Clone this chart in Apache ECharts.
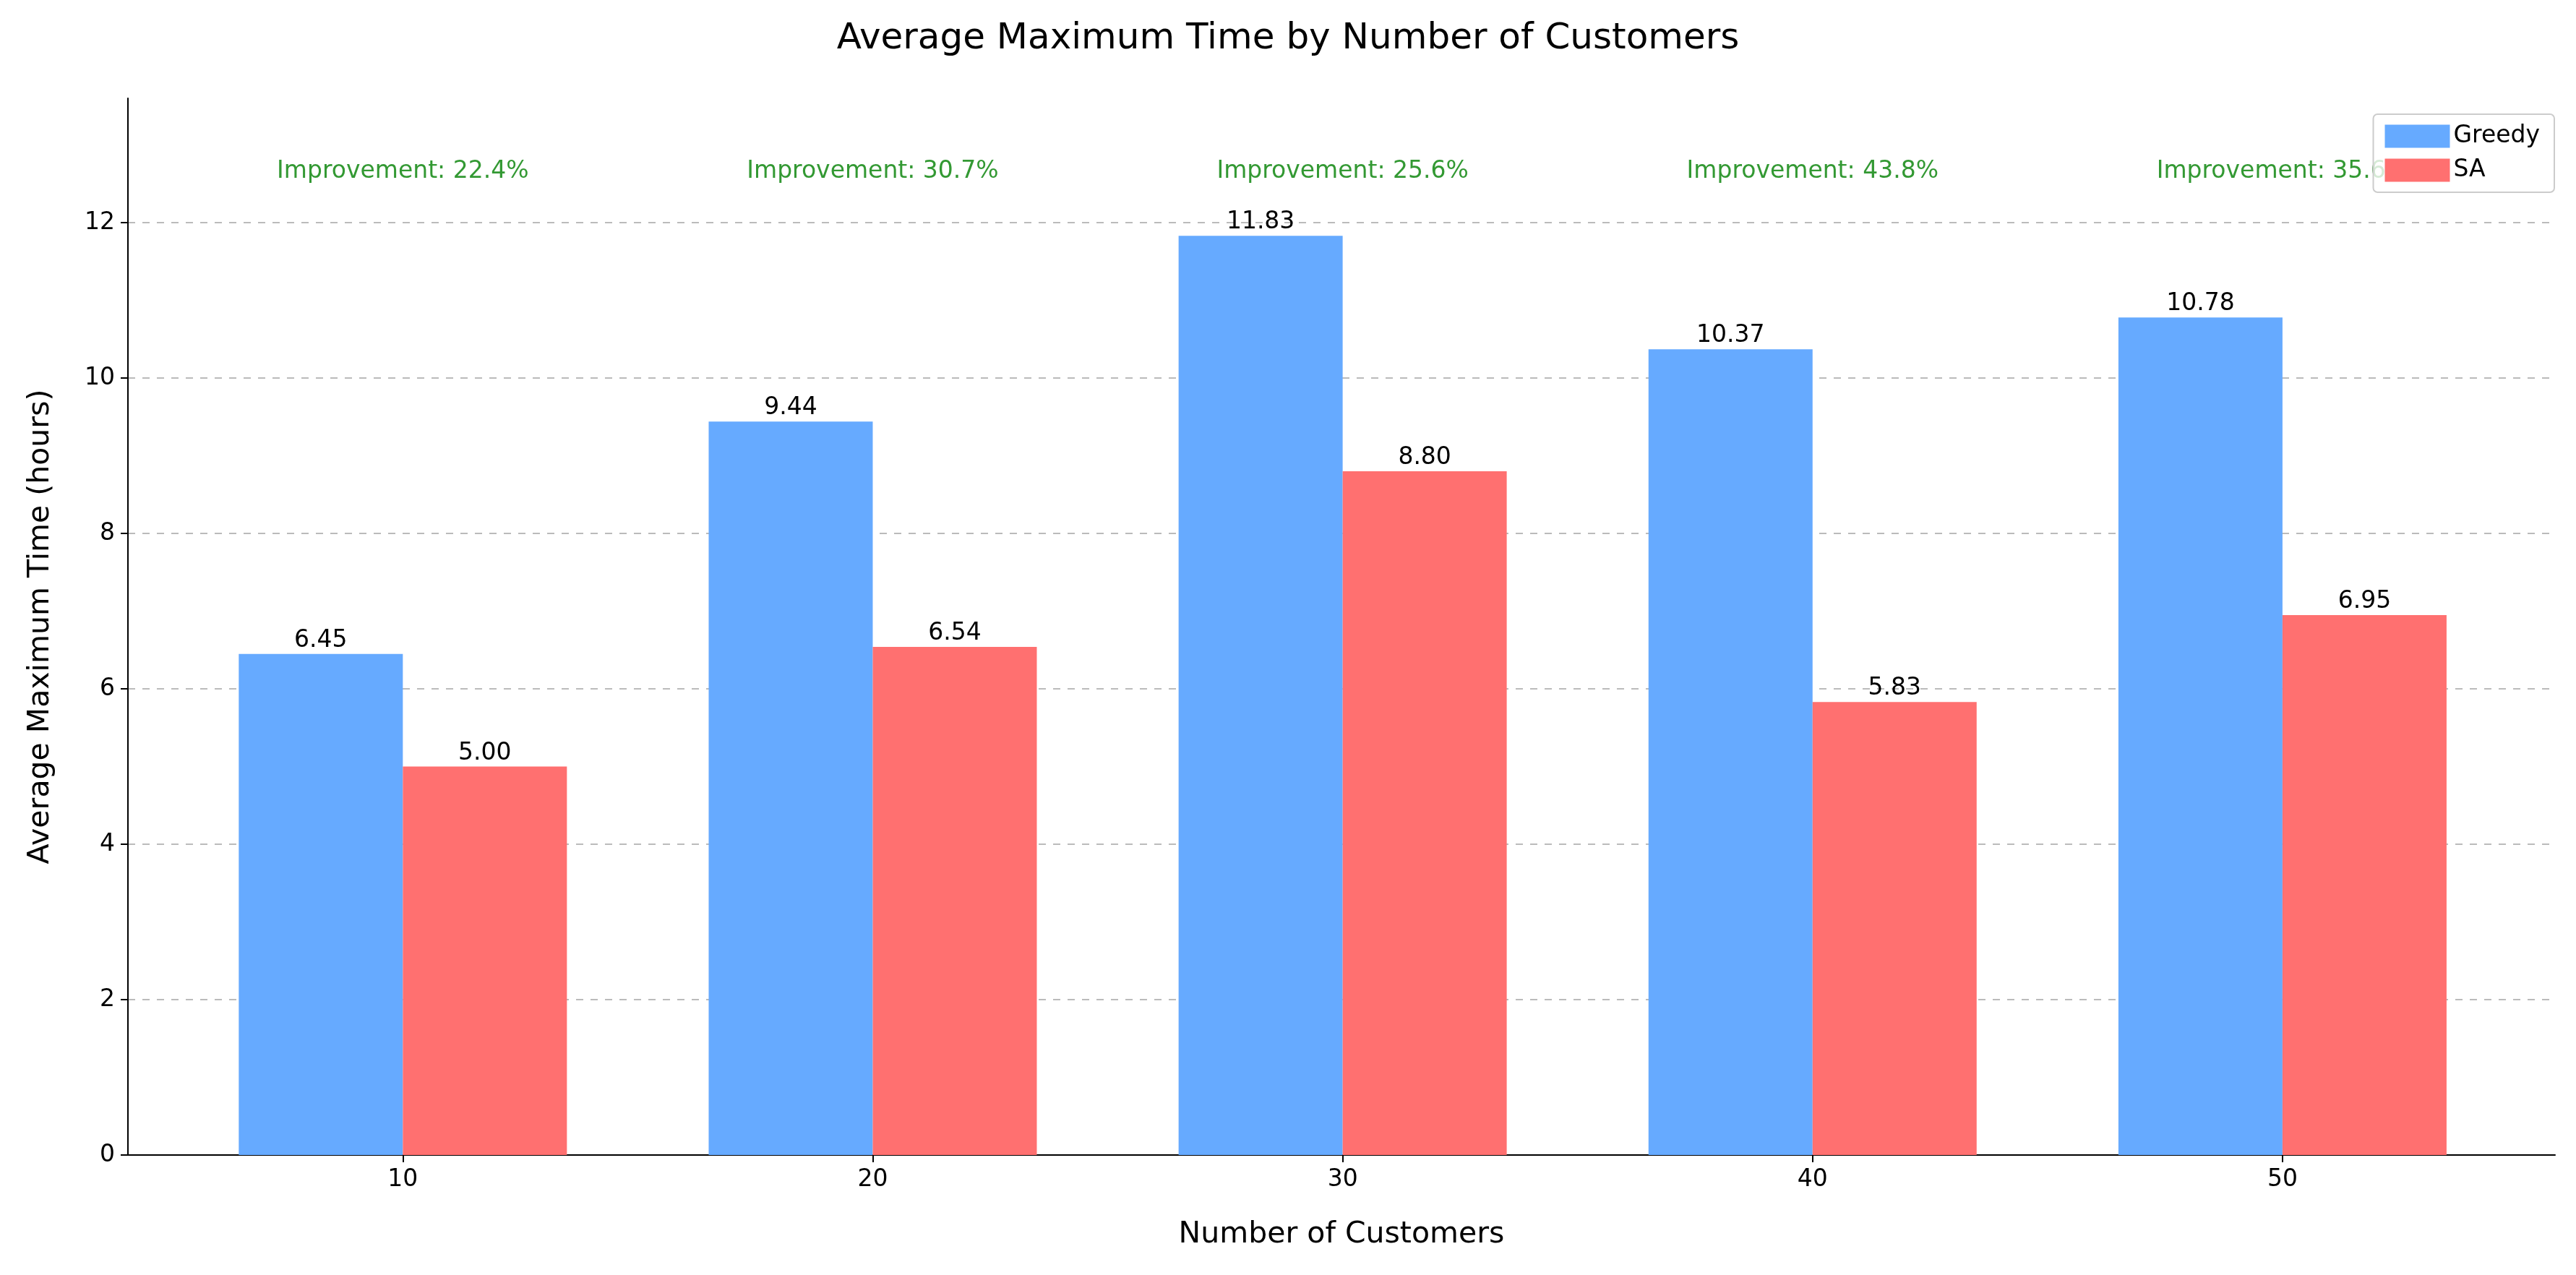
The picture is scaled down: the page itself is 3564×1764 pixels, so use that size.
<!DOCTYPE html>
<html><head><meta charset="utf-8">
<script src="https://cdn.jsdelivr.net/npm/echarts@6/dist/echarts.min.js"></script>
<style>html,body{margin:0;background:#fff}#c{width:3564px;height:1764px}</style>
</head><body><div id="c"></div>
<script>
const categories = ['10','20','30','40','50'];
const greedy = [6.45, 9.44, 11.83, 10.37, 10.78];
const sa = [5.00, 6.54, 8.80, 5.83, 6.95];
const improvements = ['22.4%','30.7%','25.6%','43.8%','35.6%'];
const yTicks = [0,2,4,6,8,10,12];
const F = 'DejaVu Sans';
const chart = echarts.init(document.getElementById('c'));
chart.setOption({
  animation:false,
  textStyle:{fontFamily:F},
  title:{text:'Average Maximum Time by Number of Customers',left:'center',top:24,textStyle:{fontFamily:F,fontSize:50,fontWeight:'normal',color:'#000'}},
  legend:{right:30,top:158,orient:'vertical',icon:'rect',itemWidth:90,itemHeight:32,itemGap:14,padding:[14,20,14,16],
    borderColor:'#ccc',borderWidth:2,borderRadius:6,backgroundColor:'rgba(255,255,255,0.8)',
    textStyle:{fontFamily:F,fontSize:33,color:'#000'},data:['Greedy','SA']},
  grid:{left:177,right:29,top:136,bottom:166},
  xAxis:{type:'value',min:-0.585,max:4.58,
    name:'Number of Customers',nameLocation:'middle',nameGap:90,nameTextStyle:{fontSize:41,color:'#000'},
    axisLine:{show:true,onZero:false,lineStyle:{color:'#000',width:2}},
    axisTick:{show:true,customValues:[0,1,2,3,4],length:10,lineStyle:{color:'#000',width:2}},
    axisLabel:{customValues:[0,1,2,3,4],fontSize:33,color:'#000',margin:18,formatter:v=>categories[Math.round(v)]},
    splitLine:{show:false}},
  yAxis:{type:'value',min:0,max:13.6,
    name:'Average Maximum Time (hours)',nameLocation:'middle',nameGap:100,nameTextStyle:{fontSize:41,color:'#000'},
    axisLine:{show:true,onZero:false,lineStyle:{color:'#000',width:2}},
    axisTick:{show:true,customValues:yTicks,length:10,lineStyle:{color:'#000',width:2}},
    axisLabel:{customValues:yTicks,fontSize:33,color:'#000',margin:18},
    splitLine:{show:true,customValues:yTicks.slice(1),lineStyle:{type:[10,10],color:'#bbb',width:2}}},
  series:[
    {name:'Greedy',type:'bar',barWidth:227,barGap:'0%',itemStyle:{color:'#66aaff'},
      data:greedy.map((v,i)=>[i,v]),
      label:{show:true,position:'top',distance:2,fontSize:33,color:'#000',formatter:p=>p.value[1].toFixed(2)}},
    {name:'SA',type:'bar',barWidth:227,barGap:'0%',itemStyle:{color:'#ff7070'},
      data:sa.map((v,i)=>[i,v]),
      label:{show:true,position:'top',distance:2,fontSize:33,color:'#000',formatter:p=>p.value[1].toFixed(2)}},
    {name:'imp',type:'scatter',symbolSize:0,silent:true,z:1,
      data:improvements.map((t,i)=>[i,12.66]),
      label:{show:true,position:'inside',fontSize:33,color:'#008000',formatter:p=>'Improvement: '+improvements[p.dataIndex]}}
  ]
});
</script></body></html>
